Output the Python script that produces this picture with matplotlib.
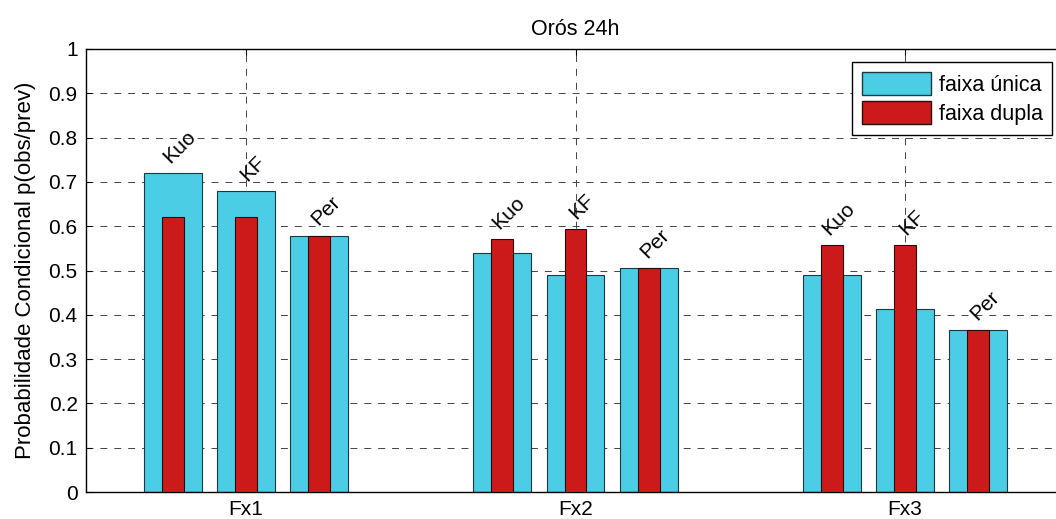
import numpy as np
import matplotlib
matplotlib.use('Agg')
import matplotlib.pyplot as plt
from matplotlib.patches import Patch

grupos = ['Fx1', 'Fx2', 'Fx3']
metodos = ['Kuo', 'KF', 'Per']
# valores (p(obs/prev))
faixa_unica = [[0.721, 0.679, 0.579],
               [0.540, 0.489, 0.505],
               [0.490, 0.412, 0.366]]
faixa_dupla = [[0.621, 0.621, 0.579],
               [0.570, 0.594, 0.505],
               [0.557, 0.557, 0.366]]

plt.rcParams['font.family'] = ['Liberation Sans', 'DejaVu Sans']
plt.rcParams['font.size'] = 15
plt.rcParams['lines.scale_dashes'] = False

ciano = '#4ccde6'
vermelho = '#cc1a1a'

fig = plt.figure(figsize=(10.56, 5.19), dpi=100)
ax = fig.add_axes([86 / 1056, 27 / 519, 979 / 1056, 443 / 519])

x = np.arange(1, len(grupos) + 1)
desloc = np.array([-0.222, 0.0, 0.222])
for i in range(len(grupos)):
    pos = x[i] + desloc
    ax.bar(pos, faixa_unica[i], width=0.176, color=ciano, edgecolor='#1a3a40',
           linewidth=0.8, zorder=2)
    ax.bar(pos, faixa_dupla[i], width=0.066, color=vermelho, edgecolor='#2a0a0a',
           linewidth=0.8, zorder=3)
    for j, m in enumerate(metodos):
        topo = max(faixa_unica[i][j], faixa_dupla[i][j])
        ax.text(pos[j] + 0.02, topo + 0.014, m, rotation=45, ha='center',
                va='bottom', fontsize=15, zorder=4)

ax.set_xlim(0.5143, 3.4857)
ax.set_ylim(0, 1)
ax.set_xticks(x)
ax.set_xticklabels(grupos)
ax.set_yticks(np.arange(0, 1.01, 0.1))
ax.set_yticklabels(['0'] + ['%.1f' % v for v in np.arange(0.1, 0.95, 0.1)] + ['1'])
ax.tick_params(direction='in', length=4, top=True, right=True, pad=6)
ax.set_axisbelow(True)
ax.grid(True, color='#444444', linestyle=(0, (5, 5)), linewidth=0.7)
for s in ax.spines.values():
    s.set_linewidth(1.0)

ax.set_ylabel('Probabilidade Condicional p(obs/prev)', fontsize=16, labelpad=9)
ax.set_title('Orós 24h', fontsize=15.5, pad=10)

handles = [Patch(facecolor=ciano, edgecolor='#1a3a40', label='faixa única'),
           Patch(facecolor=vermelho, edgecolor='#2a0a0a', label='faixa dupla')]
leg = ax.legend(handles=handles, loc='upper left',
                bbox_to_anchor=(852 / 1056, 1 - 62 / 519),
                bbox_transform=fig.transFigure, fancybox=False,
                edgecolor='black', framealpha=1, handlelength=3.2,
                handleheight=1.3, borderpad=0.45, labelspacing=0.25,
                handletextpad=0.37, borderaxespad=0, fontsize=15.5)
leg.get_frame().set_linewidth(1.0)

fig.savefig('out.png', dpi=100)
